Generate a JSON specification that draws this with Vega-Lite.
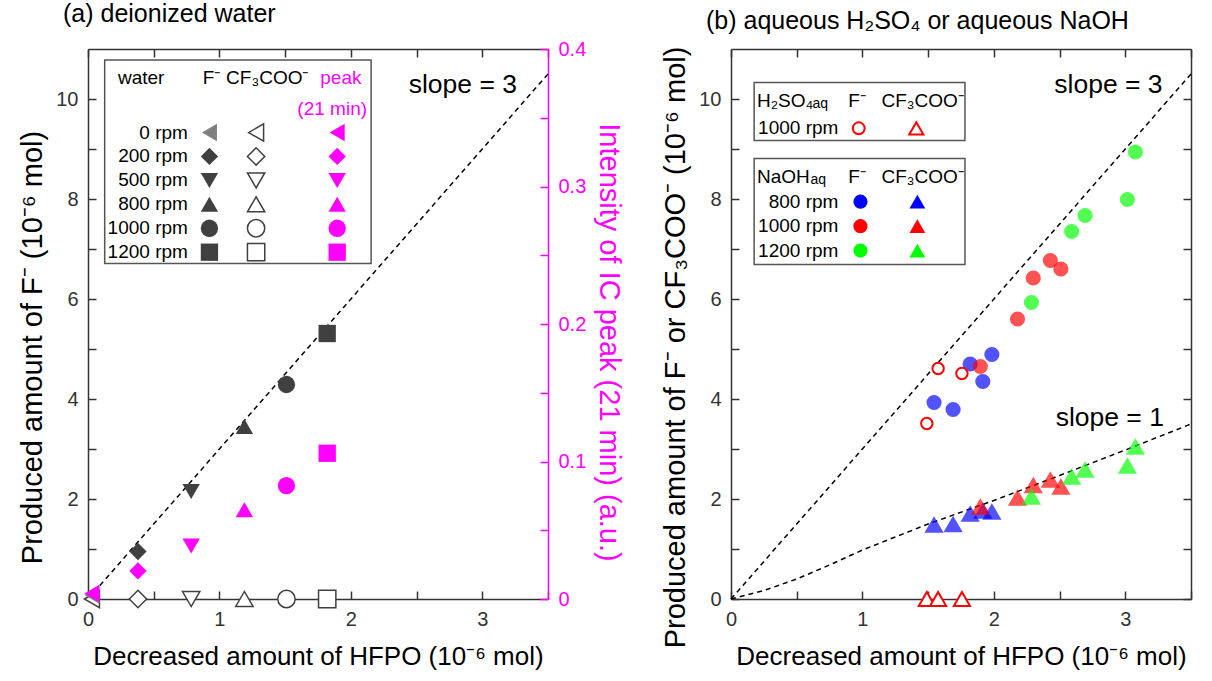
{
  "$schema": "https://vega.github.io/schema/vega-lite/v6.json",
  "padding": {"left": 18, "top": 2, "right": 5, "bottom": 5},
  "spacing": 38,
  "datasets": {
    "water": [
      {"rpm": "0 rpm", "hfpo": 0.03, "F": 0.08, "CF3": 0, "peak": 0.004},
      {"rpm": "200 rpm", "hfpo": 0.38, "F": 0.95, "CF3": 0, "peak": 0.0204},
      {"rpm": "500 rpm", "hfpo": 0.785, "F": 2.15, "CF3": 0, "peak": 0.0385},
      {"rpm": "800 rpm", "hfpo": 1.19, "F": 3.45, "CF3": 0, "peak": 0.065},
      {"rpm": "1000 rpm", "hfpo": 1.51, "F": 4.29, "CF3": 0, "peak": 0.0825},
      {"rpm": "1200 rpm", "hfpo": 1.82, "F": 5.31, "CF3": 0, "peak": 0.106}
    ],
    "aq": [
      {"series": "H2SO4 1000 rpm", "hfpo": 1.49, "F": 3.51, "CF3": 0},
      {"series": "H2SO4 1000 rpm", "hfpo": 1.576, "F": 4.61, "CF3": 0},
      {"series": "H2SO4 1000 rpm", "hfpo": 1.757, "F": 4.51, "CF3": 0},
      {"series": "NaOH 800 rpm", "hfpo": 1.545, "F": 3.93, "CF3": 1.49},
      {"series": "NaOH 800 rpm", "hfpo": 1.69, "F": 3.79, "CF3": 1.5},
      {"series": "NaOH 800 rpm", "hfpo": 1.82, "F": 4.7, "CF3": 1.71},
      {"series": "NaOH 800 rpm", "hfpo": 1.916, "F": 4.35, "CF3": 1.77},
      {"series": "NaOH 800 rpm", "hfpo": 1.985, "F": 4.89, "CF3": 1.75},
      {"series": "NaOH 1000 rpm", "hfpo": 1.897, "F": 4.65, "CF3": 1.85},
      {"series": "NaOH 1000 rpm", "hfpo": 2.18, "F": 5.6, "CF3": 2.03},
      {"series": "NaOH 1000 rpm", "hfpo": 2.3, "F": 6.42, "CF3": 2.28},
      {"series": "NaOH 1000 rpm", "hfpo": 2.43, "F": 6.77, "CF3": 2.39},
      {"series": "NaOH 1000 rpm", "hfpo": 2.51, "F": 6.6, "CF3": 2.25},
      {"series": "NaOH 1200 rpm", "hfpo": 2.286, "F": 5.93, "CF3": 2.05},
      {"series": "NaOH 1200 rpm", "hfpo": 2.592, "F": 7.35, "CF3": 2.45},
      {"series": "NaOH 1200 rpm", "hfpo": 2.694, "F": 7.67, "CF3": 2.59},
      {"series": "NaOH 1200 rpm", "hfpo": 3.016, "F": 7.99, "CF3": 2.67},
      {"series": "NaOH 1200 rpm", "hfpo": 3.077, "F": 8.94, "CF3": 3.05}
    ],
    "keys": [
      {"series": "H2SO4 1000 rpm", "label": "1000 rpm"},
      {"series": "NaOH 800 rpm", "label": "800 rpm"},
      {"series": "NaOH 1000 rpm", "label": "1000 rpm"},
      {"series": "NaOH 1200 rpm", "label": "1200 rpm"}
    ],
    "lines": [
      {"line": "slope 3", "hfpo": 0, "y": 0},
      {"line": "slope 3", "hfpo": 3.5, "y": 10.5},
      {"line": "slope 1", "hfpo": 0, "y": 0},
      {"line": "slope 1", "hfpo": 0.25, "y": 0.17},
      {"line": "slope 1", "hfpo": 0.5, "y": 0.4},
      {"line": "slope 1", "hfpo": 0.75, "y": 0.68},
      {"line": "slope 1", "hfpo": 1, "y": 0.98},
      {"line": "slope 1", "hfpo": 1.5, "y": 1.5},
      {"line": "slope 1", "hfpo": 2, "y": 1.97},
      {"line": "slope 1", "hfpo": 2.5, "y": 2.47},
      {"line": "slope 1", "hfpo": 3, "y": 2.98},
      {"line": "slope 1", "hfpo": 3.5, "y": 3.5}
    ],
    "slope3": [
      {"hfpo": 0, "y": 0},
      {"hfpo": 3.5, "y": 10.5}
    ]
  },
  "hconcat": [
    {
      "width": 460,
      "height": 550,
      "title": {"text": "(a) deionized water"},
      "resolve": {"scale": {"y": "independent"}, "axis": {"x": "independent", "y": "independent"}},
      "layer": [
        {
          "data": {"name": "slope3"},
          "mark": {"type": "line", "stroke": "black", "strokeDash": [5, 4], "strokeWidth": 1.5},
          "encoding": {
            "x": {"field": "hfpo", "type": "quantitative", "scale": {"domain": [0, 3.5], "nice": false, "zero": false},
              "axis": {"orient": "bottom", "values": [0, 0.5, 1, 1.5, 2, 2.5, 3, 3.5], "format": "~g", "labelFlush": false, "labelExpr": "datum.value % 1 === 0 ? datum.label : ''", "title": "Decreased amount of HFPO (10⁻⁶ mol)", "titlePadding": 14, "titleFontSize": 26,
                "encode": {"ticks": {"update": {"y2": {"signal": "datum.value % 1 === 0 ? -8 : -4.5"}}}}}},
            "y": {"field": "y", "type": "quantitative", "scale": {"domain": [0, 11], "nice": false},
              "axis": {"orient": "left", "values": [0, 1, 2, 3, 4, 5, 6, 7, 8, 9, 10], "labelFlush": false, "labelExpr": "datum.value % 2 === 0 ? datum.label : ''", "title": "Produced amount of F⁻ (10⁻⁶ mol)", "titlePadding": 8, "titleFontSize": 29, "titleY": 298,
                "encode": {"ticks": {"update": {"x2": {"signal": "datum.value % 2 === 0 ? 8 : 4.5"}}}}}}
          }
        },
        {
          "data": {"values": [{}]},
          "mark": {"type": "rect", "fill": "white", "stroke": "#555555", "strokeWidth": 1.5},
          "encoding": {
            "x": {"datum": 0.127, "type": "quantitative", "axis": null},
            "x2": {"datum": 2.154},
            "y": {"datum": 10.78, "type": "quantitative", "scale": {"domain": [0, 11], "nice": false}, "axis": null},
            "y2": {"datum": 6.71}
          }
        },
        {
          "data": {"values": [{}]},
          "mark": {"type": "text", "text": "slope = 3", "align": "left", "baseline": "middle", "fontSize": 26.5, "color": "black"},
          "encoding": {
            "x": {"datum": 2.44, "type": "quantitative", "axis": null},
            "y": {"datum": 10.28, "type": "quantitative", "scale": {"domain": [0, 11], "nice": false}, "axis": null}
          }
        },
        {
          "data": {"values": [{}]},
          "mark": {"type": "text", "text": "water", "align": "left", "baseline": "middle", "fontSize": 19, "color": "black"},
          "encoding": {"x": {"datum": 0.228, "type": "quantitative", "axis": null}, "y": {"datum": 10.43, "type": "quantitative", "scale": {"domain": [0, 11], "nice": false}, "axis": null}}
        },
        {
          "data": {"values": [{}]},
          "mark": {"type": "text", "text": "F⁻", "align": "center", "baseline": "middle", "fontSize": 19, "color": "black"},
          "encoding": {"x": {"datum": 0.94, "type": "quantitative", "axis": null}, "y": {"datum": 10.43, "type": "quantitative", "scale": {"domain": [0, 11], "nice": false}, "axis": null}}
        },
        {
          "data": {"values": [{}]},
          "mark": {"type": "text", "text": "CF₃COO⁻", "align": "center", "baseline": "middle", "fontSize": 19, "color": "black"},
          "encoding": {"x": {"datum": 1.364, "type": "quantitative", "axis": null}, "y": {"datum": 10.43, "type": "quantitative", "scale": {"domain": [0, 11], "nice": false}, "axis": null}}
        },
        {
          "data": {"values": [{}]},
          "mark": {"type": "text", "text": "peak", "align": "center", "baseline": "middle", "fontSize": 19, "color": "#ff00ff"},
          "encoding": {"x": {"datum": 1.924, "type": "quantitative", "axis": null}, "y": {"datum": 10.43, "type": "quantitative", "scale": {"domain": [0, 11], "nice": false}, "axis": null}}
        },
        {
          "data": {"values": [{}]},
          "mark": {"type": "text", "text": "(21 min)", "align": "center", "baseline": "middle", "fontSize": 19, "color": "#ff00ff"},
          "encoding": {"x": {"datum": 1.858, "type": "quantitative", "axis": null}, "y": {"datum": 9.81, "type": "quantitative", "scale": {"domain": [0, 11], "nice": false}, "axis": null}}
        },
        {
          "data": {"name": "water"},
          "mark": {"type": "point", "filled": true, "fill": "white", "stroke": "#404040", "strokeWidth": 1.5, "opacity": 1},
          "encoding": {
            "x": {"field": "hfpo", "type": "quantitative", "axis": null},
            "y": {"field": "CF3", "type": "quantitative", "scale": {"domain": [0, 11], "nice": false}, "axis": null},
            "shape": {"field": "rpm", "type": "nominal", "scale": {"domain": ["0 rpm", "200 rpm", "500 rpm", "800 rpm", "1000 rpm", "1200 rpm"], "range": ["triangle-left", "diamond", "triangle-down", "triangle-up", "circle", "square"]}},
            "size": {"field": "rpm", "type": "ordinal", "scale": {"domain": ["0 rpm", "200 rpm", "500 rpm", "800 rpm", "1000 rpm", "1200 rpm"], "range": [300, 300, 300, 300, 220, 200]}}
          }
        },
        {
          "data": {"name": "water"},
          "mark": {"type": "point", "filled": true, "opacity": 1},
          "encoding": {
            "x": {"field": "hfpo", "type": "quantitative", "axis": null},
            "y": {"field": "F", "type": "quantitative", "scale": {"domain": [0, 11], "nice": false}, "axis": null},
            "shape": {"field": "rpm", "type": "nominal"},
            "size": {"field": "rpm", "type": "ordinal"},
            "color": {"condition": {"test": "datum.rpm === '0 rpm'", "value": "#808080"}, "value": "#404040"}
          }
        },
        {
          "data": {"name": "water"},
          "mark": {"type": "point", "filled": true, "color": "#ff00ff", "opacity": 1},
          "encoding": {
            "x": {"field": "hfpo", "type": "quantitative", "scale": {"domain": [0, 3.5], "nice": false, "zero": false},
              "axis": {"orient": "top", "values": [0, 0.5, 1, 1.5, 2, 2.5, 3, 3.5], "labels": false, "title": null,
                "encode": {"ticks": {"update": {"y2": {"signal": "datum.value % 1 === 0 ? 8 : 4.5"}}}}}},
            "y": {"field": "peak", "type": "quantitative", "scale": {"domain": [0, 0.4], "nice": false},
              "axis": {"orient": "right", "values": [0, 0.05, 0.1, 0.15, 0.2, 0.25, 0.3, 0.35, 0.4], "format": "~g", "labelFlush": false,
                "labelExpr": "abs(datum.value * 10 - round(datum.value * 10)) < 1e-6 ? datum.label : ''",
                "title": "Intensity of IC peak (21 min) (a.u.)", "titlePadding": 8, "titleFontSize": 29, "titleY": 293,
                "domainColor": "#ff00ff", "tickColor": "#ff00ff", "labelColor": "#ff00ff", "titleColor": "#ff00ff",
                "encode": {"ticks": {"update": {"x2": {"signal": "abs(datum.value * 10 - round(datum.value * 10)) < 1e-6 ? -8 : -4.5"}}}}}},
            "shape": {"field": "rpm", "type": "nominal"},
            "size": {"field": "rpm", "type": "ordinal"}
          }
        },
        {
          "data": {"name": "water"},
          "mark": {"type": "text", "align": "right", "baseline": "middle", "fontSize": 19, "color": "black"},
          "encoding": {
            "x": {"datum": 0.76, "type": "quantitative", "axis": null},
            "y": {"field": "rpm", "type": "ordinal", "axis": null, "scale": {"type": "point", "domain": ["p1", "p2", "p3", "0 rpm", "200 rpm", "500 rpm", "800 rpm", "1000 rpm", "1200 rpm", "f1", "f2", "f3", "f4", "f5", "f6", "f7", "f8", "f9", "f10", "f11", "f12", "f13", "f14"], "padding": 0.49}},
            "text": {"field": "rpm"}
          }
        },
        {
          "data": {"name": "water"},
          "mark": {"type": "point", "filled": true, "opacity": 1},
          "encoding": {
            "x": {"datum": 0.924, "type": "quantitative", "axis": null},
            "y": {"field": "rpm", "type": "ordinal", "axis": null, "scale": {"type": "point", "domain": ["p1", "p2", "p3", "0 rpm", "200 rpm", "500 rpm", "800 rpm", "1000 rpm", "1200 rpm", "f1", "f2", "f3", "f4", "f5", "f6", "f7", "f8", "f9", "f10", "f11", "f12", "f13", "f14"], "padding": 0.49}},
            "shape": {"field": "rpm", "type": "nominal"},
            "size": {"field": "rpm", "type": "ordinal"},
            "color": {"condition": {"test": "datum.rpm === '0 rpm'", "value": "#808080"}, "value": "#404040"}
          }
        },
        {
          "data": {"name": "water"},
          "mark": {"type": "point", "filled": true, "fill": "white", "stroke": "#404040", "strokeWidth": 1.5, "opacity": 1},
          "encoding": {
            "x": {"datum": 1.279, "type": "quantitative", "axis": null},
            "y": {"field": "rpm", "type": "ordinal", "axis": null, "scale": {"type": "point", "domain": ["p1", "p2", "p3", "0 rpm", "200 rpm", "500 rpm", "800 rpm", "1000 rpm", "1200 rpm", "f1", "f2", "f3", "f4", "f5", "f6", "f7", "f8", "f9", "f10", "f11", "f12", "f13", "f14"], "padding": 0.49}},
            "shape": {"field": "rpm", "type": "nominal"},
            "size": {"field": "rpm", "type": "ordinal"}
          }
        },
        {
          "data": {"name": "water"},
          "mark": {"type": "point", "filled": true, "color": "#ff00ff", "opacity": 1},
          "encoding": {
            "x": {"datum": 1.896, "type": "quantitative", "axis": null},
            "y": {"field": "rpm", "type": "ordinal", "axis": null, "scale": {"type": "point", "domain": ["p1", "p2", "p3", "0 rpm", "200 rpm", "500 rpm", "800 rpm", "1000 rpm", "1200 rpm", "f1", "f2", "f3", "f4", "f5", "f6", "f7", "f8", "f9", "f10", "f11", "f12", "f13", "f14"], "padding": 0.49}},
            "shape": {"field": "rpm", "type": "nominal"},
            "size": {"field": "rpm", "type": "ordinal"}
          }
        }
      ]
    },
    {
      "width": 460,
      "height": 550,
      "title": {"text": "(b) aqueous H₂SO₄ or aqueous NaOH"},
      "resolve": {"scale": {"y": "independent"}, "axis": {"x": "independent", "y": "independent"}},
      "layer": [
        {
          "data": {"values": [{}]},
          "mark": {"type": "rect", "fill": "white", "stroke": "#555555", "strokeWidth": 1.5},
          "encoding": {
            "x": {"datum": 0.176, "type": "quantitative", "axis": null},
            "x2": {"datum": 1.78},
            "y": {"datum": 10.33, "type": "quantitative", "scale": {"domain": [0, 11], "nice": false}, "axis": null},
            "y2": {"datum": 9.17}
          }
        },
        {
          "data": {"values": [{}]},
          "mark": {"type": "rect", "fill": "white", "stroke": "#555555", "strokeWidth": 1.5},
          "encoding": {
            "x": {"datum": 0.176, "type": "quantitative", "axis": null},
            "x2": {"datum": 1.78},
            "y": {"datum": 8.81, "type": "quantitative", "scale": {"domain": [0, 11], "nice": false}, "axis": null},
            "y2": {"datum": 6.69}
          }
        },
        {
          "data": {"values": [{}]},
          "mark": {"type": "text", "text": "H₂SO₄", "align": "left", "baseline": "middle", "fontSize": 19, "color": "black"},
          "encoding": {"x": {"datum": 0.198, "type": "quantitative", "axis": null}, "y": {"datum": 9.97, "type": "quantitative", "scale": {"domain": [0, 11], "nice": false}, "axis": null}}
        },
        {
          "data": {"values": [{}]},
          "mark": {"type": "text", "text": "aq", "align": "left", "baseline": "middle", "fontSize": 14, "color": "black", "dy": 3},
          "encoding": {"x": {"datum": 0.62, "type": "quantitative", "axis": null}, "y": {"datum": 9.97, "type": "quantitative", "scale": {"domain": [0, 11], "nice": false}, "axis": null}}
        },
        {
          "data": {"values": [{}]},
          "mark": {"type": "text", "text": "F⁻", "align": "center", "baseline": "middle", "fontSize": 19, "color": "black"},
          "encoding": {"x": {"datum": 0.96, "type": "quantitative", "axis": null}, "y": {"datum": 9.97, "type": "quantitative", "scale": {"domain": [0, 11], "nice": false}, "axis": null}}
        },
        {
          "data": {"values": [{}]},
          "mark": {"type": "text", "text": "CF₃COO⁻", "align": "center", "baseline": "middle", "fontSize": 19, "color": "black"},
          "encoding": {"x": {"datum": 1.458, "type": "quantitative", "axis": null}, "y": {"datum": 9.97, "type": "quantitative", "scale": {"domain": [0, 11], "nice": false}, "axis": null}}
        },
        {
          "data": {"values": [{}]},
          "mark": {"type": "text", "text": "NaOH", "align": "left", "baseline": "middle", "fontSize": 19, "color": "black"},
          "encoding": {"x": {"datum": 0.198, "type": "quantitative", "axis": null}, "y": {"datum": 8.45, "type": "quantitative", "scale": {"domain": [0, 11], "nice": false}, "axis": null}}
        },
        {
          "data": {"values": [{}]},
          "mark": {"type": "text", "text": "aq", "align": "left", "baseline": "middle", "fontSize": 14, "color": "black", "dy": 3},
          "encoding": {"x": {"datum": 0.605, "type": "quantitative", "axis": null}, "y": {"datum": 8.45, "type": "quantitative", "scale": {"domain": [0, 11], "nice": false}, "axis": null}}
        },
        {
          "data": {"values": [{}]},
          "mark": {"type": "text", "text": "F⁻", "align": "center", "baseline": "middle", "fontSize": 19, "color": "black"},
          "encoding": {"x": {"datum": 0.96, "type": "quantitative", "axis": null}, "y": {"datum": 8.45, "type": "quantitative", "scale": {"domain": [0, 11], "nice": false}, "axis": null}}
        },
        {
          "data": {"values": [{}]},
          "mark": {"type": "text", "text": "CF₃COO⁻", "align": "center", "baseline": "middle", "fontSize": 19, "color": "black"},
          "encoding": {"x": {"datum": 1.458, "type": "quantitative", "axis": null}, "y": {"datum": 8.45, "type": "quantitative", "scale": {"domain": [0, 11], "nice": false}, "axis": null}}
        },
        {
          "data": {"values": [{}]},
          "mark": {"type": "text", "text": "slope = 3", "align": "left", "baseline": "middle", "fontSize": 26.5, "color": "black"},
          "encoding": {"x": {"datum": 2.46, "type": "quantitative", "axis": null}, "y": {"datum": 10.29, "type": "quantitative", "scale": {"domain": [0, 11], "nice": false}, "axis": null}}
        },
        {
          "data": {"values": [{}]},
          "mark": {"type": "text", "text": "slope = 1", "align": "left", "baseline": "middle", "fontSize": 26.5, "color": "black"},
          "encoding": {"x": {"datum": 2.47, "type": "quantitative", "axis": null}, "y": {"datum": 3.62, "type": "quantitative", "scale": {"domain": [0, 11], "nice": false}, "axis": null}}
        },
        {
          "data": {"name": "lines"},
          "mark": {"type": "line", "stroke": "black", "strokeDash": [5, 4], "strokeWidth": 1.5},
          "encoding": {
            "x": {"field": "hfpo", "type": "quantitative", "scale": {"domain": [0, 3.5], "nice": false, "zero": false},
              "axis": {"orient": "top", "values": [0, 0.5, 1, 1.5, 2, 2.5, 3, 3.5], "labels": false, "title": null,
                "encode": {"ticks": {"update": {"y2": {"signal": "datum.value % 1 === 0 ? 8 : 4.5"}}}}}},
            "y": {"field": "y", "type": "quantitative", "scale": {"domain": [0, 11], "nice": false},
              "axis": {"orient": "right", "values": [0, 1, 2, 3, 4, 5, 6, 7, 8, 9, 10], "labels": false, "title": null,
                "encode": {"ticks": {"update": {"x2": {"signal": "datum.value % 2 === 0 ? -8 : -4.5"}}}}}},
            "detail": {"field": "line", "type": "nominal"}
          }
        },
        {
          "data": {"name": "aq"},
          "transform": [{"filter": "datum.series !== 'H2SO4 1000 rpm'"}],
          "mark": {"type": "point", "shape": "circle", "filled": true, "opacity": 0.68, "size": 230},
          "encoding": {
            "x": {"field": "hfpo", "type": "quantitative", "scale": {"domain": [0, 3.5], "nice": false, "zero": false},
              "axis": {"orient": "bottom", "values": [0, 0.5, 1, 1.5, 2, 2.5, 3, 3.5], "format": "~g", "labelFlush": false, "labelExpr": "datum.value % 1 === 0 ? datum.label : ''", "title": "Decreased amount of HFPO (10⁻⁶ mol)", "titlePadding": 14, "titleFontSize": 26,
                "encode": {"ticks": {"update": {"y2": {"signal": "datum.value % 1 === 0 ? -8 : -4.5"}}}}}},
            "y": {"field": "F", "type": "quantitative", "scale": {"domain": [0, 11], "nice": false},
              "axis": {"orient": "left", "values": [0, 1, 2, 3, 4, 5, 6, 7, 8, 9, 10], "labelFlush": false, "labelExpr": "datum.value % 2 === 0 ? datum.label : ''", "title": "Produced amount of F⁻ or CF₃COO⁻ (10⁻⁶ mol)", "titlePadding": 8, "titleFontSize": 29, "titleY": 298,
                "encode": {"ticks": {"update": {"x2": {"signal": "datum.value % 2 === 0 ? 8 : 4.5"}}}}}},
            "color": {"field": "series", "type": "nominal", "scale": {"domain": ["H2SO4 1000 rpm", "NaOH 800 rpm", "NaOH 1000 rpm", "NaOH 1200 rpm"], "range": ["#ff0000", "#0000ff", "#ff0000", "#00ff00"]}}
          }
        },
        {
          "data": {"name": "aq"},
          "transform": [{"filter": "datum.series !== 'H2SO4 1000 rpm'"}],
          "mark": {"type": "point", "shape": "triangle-up", "filled": true, "opacity": 0.68, "size": 370},
          "encoding": {
            "x": {"field": "hfpo", "type": "quantitative", "axis": null},
            "y": {"field": "CF3", "type": "quantitative", "scale": {"domain": [0, 11], "nice": false}, "axis": null},
            "color": {"field": "series", "type": "nominal"}
          }
        },
        {
          "data": {"name": "aq"},
          "transform": [{"filter": "datum.series === 'H2SO4 1000 rpm'"}],
          "mark": {"type": "point", "shape": "circle", "filled": true, "fill": "white", "stroke": "#ff0000", "strokeWidth": 2, "opacity": 1, "size": 130},
          "encoding": {
            "x": {"field": "hfpo", "type": "quantitative", "axis": null},
            "y": {"field": "F", "type": "quantitative", "scale": {"domain": [0, 11], "nice": false}, "axis": null}
          }
        },
        {
          "data": {"name": "aq"},
          "transform": [{"filter": "datum.series === 'H2SO4 1000 rpm'"}],
          "mark": {"type": "point", "shape": "triangle-up", "filled": true, "fill": "white", "stroke": "#ff0000", "strokeWidth": 2, "opacity": 1, "size": 260},
          "encoding": {
            "x": {"field": "hfpo", "type": "quantitative", "axis": null},
            "y": {"field": "CF3", "type": "quantitative", "scale": {"domain": [0, 11], "nice": false}, "axis": null}
          }
        },
        {
          "data": {"name": "keys"},
          "mark": {"type": "text", "align": "right", "baseline": "middle", "fontSize": 19, "color": "black"},
          "encoding": {
            "x": {"datum": 0.817, "type": "quantitative", "axis": null},
            "y": {"field": "series", "type": "ordinal", "axis": null, "scale": {"type": "point", "domain": ["p1", "p2", "p3", "H2SO4 1000 rpm", "g1", "g2", "NaOH 800 rpm", "NaOH 1000 rpm", "NaOH 1200 rpm", "f1", "f2", "f3", "f4", "f5", "f6", "f7", "f8", "f9", "f10", "f11", "f12", "f13", "f14"], "padding": 0.24}},
            "text": {"field": "label"}
          }
        },
        {
          "data": {"name": "keys"},
          "transform": [{"filter": "datum.series !== 'H2SO4 1000 rpm'"}],
          "mark": {"type": "point", "shape": "circle", "filled": true, "opacity": 1, "size": 200},
          "encoding": {
            "x": {"datum": 0.985, "type": "quantitative", "axis": null},
            "y": {"field": "series", "type": "ordinal", "axis": null, "scale": {"type": "point", "domain": ["p1", "p2", "p3", "H2SO4 1000 rpm", "g1", "g2", "NaOH 800 rpm", "NaOH 1000 rpm", "NaOH 1200 rpm", "f1", "f2", "f3", "f4", "f5", "f6", "f7", "f8", "f9", "f10", "f11", "f12", "f13", "f14"], "padding": 0.24}},
            "color": {"field": "series", "type": "nominal"}
          }
        },
        {
          "data": {"name": "keys"},
          "transform": [{"filter": "datum.series !== 'H2SO4 1000 rpm'"}],
          "mark": {"type": "point", "shape": "triangle-up", "filled": true, "opacity": 1, "size": 250},
          "encoding": {
            "x": {"datum": 1.418, "type": "quantitative", "axis": null},
            "y": {"field": "series", "type": "ordinal", "axis": null, "scale": {"type": "point", "domain": ["p1", "p2", "p3", "H2SO4 1000 rpm", "g1", "g2", "NaOH 800 rpm", "NaOH 1000 rpm", "NaOH 1200 rpm", "f1", "f2", "f3", "f4", "f5", "f6", "f7", "f8", "f9", "f10", "f11", "f12", "f13", "f14"], "padding": 0.24}},
            "color": {"field": "series", "type": "nominal"}
          }
        },
        {
          "data": {"name": "keys"},
          "transform": [{"filter": "datum.series === 'H2SO4 1000 rpm'"}],
          "mark": {"type": "point", "shape": "circle", "filled": true, "fill": "white", "stroke": "#ff0000", "strokeWidth": 2, "opacity": 1, "size": 140},
          "encoding": {
            "x": {"datum": 0.972, "type": "quantitative", "axis": null},
            "y": {"field": "series", "type": "ordinal", "axis": null, "scale": {"type": "point", "domain": ["p1", "p2", "p3", "H2SO4 1000 rpm", "g1", "g2", "NaOH 800 rpm", "NaOH 1000 rpm", "NaOH 1200 rpm", "f1", "f2", "f3", "f4", "f5", "f6", "f7", "f8", "f9", "f10", "f11", "f12", "f13", "f14"], "padding": 0.24}}
          }
        },
        {
          "data": {"name": "keys"},
          "transform": [{"filter": "datum.series === 'H2SO4 1000 rpm'"}],
          "mark": {"type": "point", "shape": "triangle-up", "filled": true, "fill": "white", "stroke": "#ff0000", "strokeWidth": 2, "opacity": 1, "size": 200},
          "encoding": {
            "x": {"datum": 1.41, "type": "quantitative", "axis": null},
            "y": {"field": "series", "type": "ordinal", "axis": null, "scale": {"type": "point", "domain": ["p1", "p2", "p3", "H2SO4 1000 rpm", "g1", "g2", "NaOH 800 rpm", "NaOH 1000 rpm", "NaOH 1200 rpm", "f1", "f2", "f3", "f4", "f5", "f6", "f7", "f8", "f9", "f10", "f11", "f12", "f13", "f14"], "padding": 0.24}}
          }
        }
      ]
    }
  ],
  "config": {
    "font": "Liberation Sans",
    "view": {"stroke": null},
    "legend": {"disable": true},
    "axis": {
      "grid": false,
      "domainColor": "#333333",
      "domainWidth": 1.5,
      "tickColor": "#333333",
      "tickWidth": 1.5,
      "tickSize": -8,
      "labelColor": "#333333",
      "labelFontSize": 20,
      "labelPadding": 18,
      "labelFont": "Liberation Sans",
      "titleFont": "Liberation Sans",
      "titleFontSize": 26,
      "titleFontWeight": "normal",
      "titleColor": "#000000"
    },
    "title": {"anchor": "start", "frame": "group", "fontSize": 25, "fontWeight": "normal", "color": "#000000", "dx": -25, "offset": 12, "font": "Liberation Sans"}
  }
}
